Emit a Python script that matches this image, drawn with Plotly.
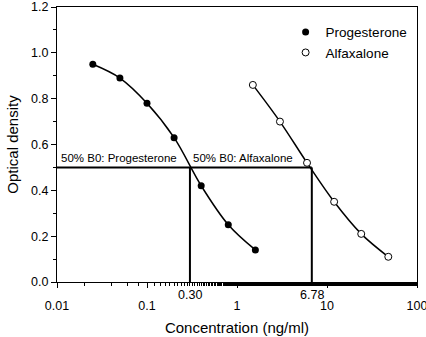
import math
import plotly.graph_objects as go

# concentrations (ng/ml) and optical density readings
prog_conc = [0.025, 0.05, 0.1, 0.2, 0.4, 0.8, 1.6]
prog_od = [0.95, 0.89, 0.78, 0.63, 0.42, 0.25, 0.14]
alfa_conc = [1.5, 3, 6, 12, 24, 48]
alfa_od = [0.86, 0.70, 0.52, 0.35, 0.21, 0.11]

# 50% B0 values
b0_level = 0.5
prog_b0 = 0.30
alfa_b0 = 6.78

x_ticks = [0.01, 0.1, 1, 10, 100]
x_ticktext = ["0.01", "0.1", "1", "10", "100"]
y_ticks = [0.0, 0.2, 0.4, 0.6, 0.8, 1.0, 1.2]

font = "Liberation Sans"

fig = go.Figure()

# reference lines for 50% B0
fig.add_trace(go.Scatter(x=[0.01, alfa_b0], y=[b0_level, b0_level], mode="lines",
                         line=dict(color="black", width=2), showlegend=False, hoverinfo="skip"))
fig.add_trace(go.Scatter(x=[prog_b0, prog_b0], y=[0, b0_level], mode="lines",
                         line=dict(color="black", width=2), showlegend=False, hoverinfo="skip"))
fig.add_trace(go.Scatter(x=[alfa_b0, alfa_b0], y=[0, b0_level], mode="lines",
                         line=dict(color="black", width=2), showlegend=False, hoverinfo="skip"))

# fitted curves
fig.add_trace(go.Scatter(x=prog_conc, y=prog_od, mode="lines", line_shape="spline",
                         line=dict(color="black", width=1.5), showlegend=False))
fig.add_trace(go.Scatter(x=alfa_conc, y=alfa_od, mode="lines", line_shape="spline",
                         line=dict(color="black", width=1.5), showlegend=False))

# data points
fig.add_trace(go.Scatter(x=prog_conc, y=prog_od, mode="markers", name="Progesterone",
                         marker=dict(symbol="circle", size=7, color="black")))
fig.add_trace(go.Scatter(x=alfa_conc, y=alfa_od, mode="markers", name="Alfaxalone",
                         marker=dict(symbol="circle", size=7, color="white",
                                     line=dict(color="black", width=1))))

annots = [
    dict(x=math.log10(0.0105), y=b0_level, xref="x", yref="y", text="50% B0: Progesterone",
         showarrow=False, xanchor="left", yanchor="bottom", yshift=1),
    dict(x=math.log10(prog_b0), y=b0_level, xref="x", yref="y", text="50% B0: Alfaxalone",
         showarrow=False, xanchor="left", yanchor="bottom", xshift=1, yshift=1),
    dict(x=math.log10(prog_b0), y=0, xref="x", yref="y", text=f"{prog_b0:.2f}",
         showarrow=False, yanchor="middle", yshift=-13, font=dict(size=12.5)),
    dict(x=math.log10(alfa_b0), y=0, xref="x", yref="y", text=f"{alfa_b0:.2f}",
         showarrow=False, yanchor="middle", yshift=-13, font=dict(size=12.5)),
]

fig.update_layout(
    width=426, height=337,
    margin=dict(l=57, r=9, t=7, b=55),
    paper_bgcolor="white", plot_bgcolor="white",
    font=dict(family=font, size=11.5, color="black"),
    annotations=annots,
    legend=dict(x=0.635, y=0.965, xanchor="left", yanchor="top",
                bgcolor="rgba(0,0,0,0)", font=dict(size=13.5), itemwidth=30,
                tracegroupgap=0),
)
fig.update_xaxes(
    type="log", range=[-2, 2], tickvals=x_ticks, ticktext=x_ticktext,
    ticks="outside", ticklen=5, tickwidth=1, tickcolor="black",
    minor=dict(ticks="outside", ticklen=3, tickcolor="black", showgrid=False),
    showline=True, linecolor="black", linewidth=1, mirror=True,
    showgrid=False, zeroline=False, ticklabelstandoff=7, ticklabeloverflow="allow",
    title=dict(text="Concentration (ng/ml)", font=dict(size=15), standoff=10),
    tickfont=dict(size=12.5), automargin=False,
)
fig.update_yaxes(
    range=[0, 1.2], tickvals=y_ticks, tickformat=".1f",
    ticks="outside", ticklen=5, tickwidth=1, tickcolor="black",
    minor=dict(dtick=0.1, ticks="outside", ticklen=3, tickcolor="black", showgrid=False),
    showline=True, linecolor="black", linewidth=1, mirror=True,
    showgrid=False, zeroline=False, ticklabeloverflow="allow",
    title=dict(text="Optical density", font=dict(size=15), standoff=8),
    tickfont=dict(size=12.5), automargin=False,
)

fig.write_html("out.html", config={"displayModeBar": False},
               post_script="document.body.style.margin='0';document.body.style.overflow='hidden';")
